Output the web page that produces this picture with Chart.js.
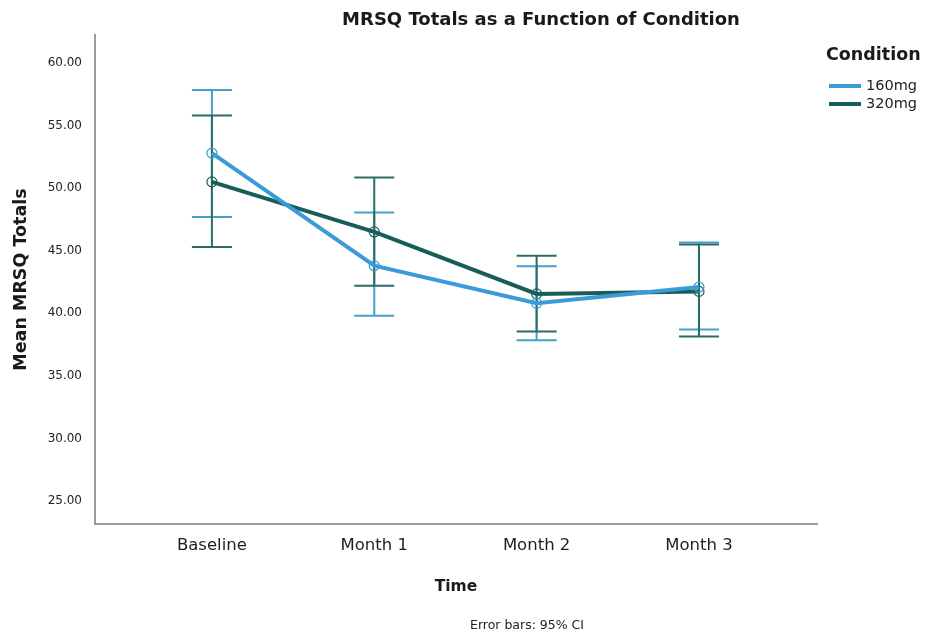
<!DOCTYPE html>
<html>
<head>
<meta charset="utf-8">
<script src="https://cdn.jsdelivr.net/npm/chart.js@4.4.1/dist/chart.umd.min.js"></script>
<style>
  html, body { margin: 0; padding: 0; background: #fff; }
  #wrap { width: 933px; height: 640px; }
</style>
</head>
<body>
<div id="wrap"><canvas id="myChart" width="933" height="640"></canvas></div>
<script>
// categories and values
var categories = ['Baseline', 'Month 1', 'Month 2', 'Month 3'];
var yTicks = [25, 30, 35, 40, 45, 50, 55, 60];

var mean160 = [52.8, 43.8, 40.8, 42.1];
var low160  = [47.7, 39.8, 37.85, 38.7];
var high160 = [57.85, 48.05, 43.75, 45.65];

var mean320 = [50.5, 46.5, 41.55, 41.75];
var low320  = [45.3, 42.2, 38.55, 38.15];
var high320 = [55.8, 50.85, 44.6, 45.5];

var seriesLabels = ['160mg', '320mg'];
var lineColors = ['#3b9ad8', '#185e58'];
var barColors = ['#46a0c8', '#2b6b68'];
var lows = [low160, low320];
var highs = [high160, high320];

function toPoints(arr) {
    return arr.map(function (v, i) { return { x: i, y: v }; });
}

// draws the 95% CI bars with the chart's own scales
var errorBars = {
    id: 'errorBars',
    beforeDatasetsDraw: function (chart) {
        var ctx = chart.ctx;
        var xs = chart.scales.x, ys = chart.scales.y;
        ctx.save();
        ctx.lineWidth = 2;
        for (var d = 0; d < lows.length; d++) {
            ctx.strokeStyle = barColors[d];
            for (var i = 0; i < categories.length; i++) {
                var x = xs.getPixelForValue(i);
                var yl = ys.getPixelForValue(lows[d][i]);
                var yh = ys.getPixelForValue(highs[d][i]);
                ctx.beginPath();
                ctx.moveTo(x, yl); ctx.lineTo(x, yh);
                ctx.moveTo(x - 20, yl); ctx.lineTo(x + 20, yl);
                ctx.moveTo(x - 20, yh); ctx.lineTo(x + 20, yh);
                ctx.stroke();
            }
        }
        ctx.restore();
    }
};

// title, legend and footnote
var extras = {
    id: 'extras',
    afterDraw: function (chart) {
        var ctx = chart.ctx;
        ctx.save();
        ctx.fillStyle = '#1a1a1a';
        ctx.textBaseline = 'middle';
        ctx.textAlign = 'center';
        ctx.font = 'bold 18px "DejaVu Sans"';
        ctx.fillText('MRSQ Totals as a Function of Condition', 541, 20);

        ctx.font = '12.5px "DejaVu Sans"';
        ctx.fillStyle = '#222';
        ctx.fillText('Error bars: 95% CI', 527, 626);

        ctx.textAlign = 'left';
        ctx.fillStyle = '#1a1a1a';
        ctx.font = 'bold 17.5px "DejaVu Sans"';
        ctx.fillText('Condition', 826, 55);
        ctx.font = '14.5px "DejaVu Sans"';
        for (var d = 0; d < seriesLabels.length; d++) {
            var y = 86 + d * 18;
            ctx.strokeStyle = lineColors[d];
            ctx.lineWidth = 4;
            ctx.beginPath();
            ctx.moveTo(829, y); ctx.lineTo(861, y);
            ctx.stroke();
            ctx.fillStyle = '#222';
            ctx.fillText(seriesLabels[d], 866, y);
        }
        ctx.restore();
    }
};

var ctx = document.getElementById('myChart').getContext('2d');
new Chart(ctx, {
    type: 'line',
    data: {
        datasets: [mean160, mean320].map(function (arr, d) {
            return {
                label: seriesLabels[d],
                data: toPoints(arr),
                borderColor: lineColors[d],
                borderWidth: 4,
                pointRadius: 5,
                pointBorderWidth: 1.2,
                pointBorderColor: lineColors[d],
                pointBackgroundColor: 'rgba(0,0,0,0)',
                tension: 0
            };
        })
    },
    options: {
        responsive: false,
        animation: false,
        layout: { padding: { top: 35, right: 116, bottom: 0, left: 0 } },
        plugins: {
            legend: { display: false },
            title: { display: false },
            tooltip: { enabled: false }
        },
        scales: {
            x: {
                type: 'linear',
                min: -0.72,
                max: 3.727,
                afterBuildTicks: function (s) {
                    s.ticks = categories.map(function (c, i) { return { value: i }; });
                },
                afterFit: function (s) { s.height = 116; },
                grid: { display: false, drawTicks: false },
                border: { display: true, color: '#9c9c9c', width: 2 },
                ticks: {
                    padding: 12,
                    color: '#1e1e1e',
                    font: { family: 'DejaVu Sans', size: 16.5 },
                    maxRotation: 0,
                    callback: function (v) { return categories[v]; }
                },
                title: {
                    display: true,
                    text: 'Time',
                    color: '#1a1a1a',
                    font: { family: 'DejaVu Sans', size: 15.5, weight: 'bold' },
                    padding: { top: 0, bottom: 44 }
                }
            },
            y: {
                min: 23.16,
                max: 62.24,
                afterBuildTicks: function (s) {
                    s.ticks = yTicks.map(function (v) { return { value: v }; });
                },
                afterFit: function (s) { s.width = 95; },
                grid: { display: false, drawTicks: false },
                border: { display: true, color: '#9c9c9c', width: 2 },
                ticks: {
                    padding: 13,
                    color: '#222',
                    font: { family: 'DejaVu Sans', size: 12 },
                    callback: function (v) { return v.toFixed(2); }
                },
                title: {
                    display: true,
                    text: 'Mean MRSQ Totals',
                    color: '#1a1a1a',
                    font: { family: 'DejaVu Sans', size: 17.5, weight: 'bold' },
                    padding: { top: 11, bottom: 0 }
                }
            }
        }
    },
    plugins: [errorBars, extras]
});
</script>
</body>
</html>
